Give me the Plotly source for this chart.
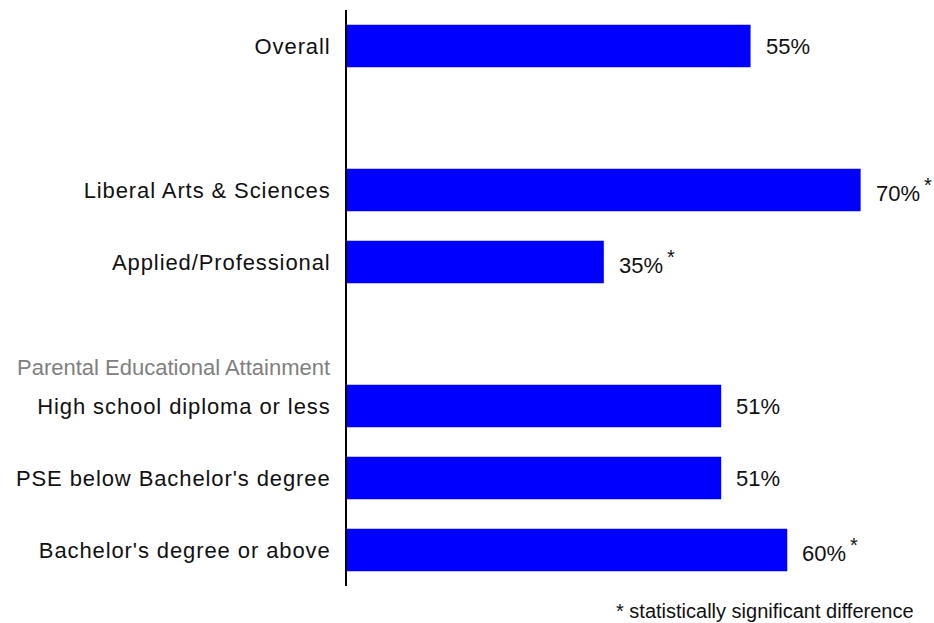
import plotly.graph_objects as go

# Share of respondents, grouped by program type and parental education
overall_labels = ["Overall"]
overall_values = [55]
overall_sig = [False]

program_labels = ["Liberal Arts & Sciences", "Applied/Professional"]
program_values = [70, 35]
program_sig = [True, True]

parent_header = "Parental Educational Attainment"
parent_labels = ["High school diploma or less", "PSE below Bachelor's degree",
                 "Bachelor's degree or above"]
parent_values = [51, 51, 60]
parent_sig = [False, False, True]

footnote = "* statistically significant difference"

groups = [
    (overall_labels, overall_values, overall_sig),
    (program_labels, program_values, program_sig),
    (parent_labels, parent_values, parent_sig),
]

# Category order with blank spacer rows between groups
order, labels, values, sig = [], [], [], []
for gi, (lab, val, s) in enumerate(groups):
    if gi > 0:
        order.append(" " * gi)
    order.extend(lab)
    labels.extend(lab)
    values.extend(val)
    sig.extend(s)

FONT = "Liberation Sans, Arial, Helvetica, sans-serif"
BLUE = "#0000FF"
INK = "#111111"


def spaced(txt, px):
    return f"<span style='letter-spacing:{px}px'>{txt}</span>" if txt.strip() else txt


STAR = "<sup><span style='font-size:20px'>&#8201;*</span></sup>"

fig = go.Figure(
    go.Bar(
        x=values,
        y=labels,
        orientation="h",
        width=0.59,
        marker=dict(color=BLUE, line=dict(width=0)),
        hoverinfo="skip",
    )
)

for lab, val, s in zip(labels, values, sig):
    fig.add_annotation(
        x=val, y=lab, xref="x", yref="y",
        text=f"{val}%" + (STAR if s else ""),
        showarrow=False, xanchor="left", xshift=13,
        font=dict(family=FONT, size=22, color=INK),
    )

header_idx = order.index(" " * 2)
fig.add_annotation(
    x=0, y=header_idx + 0.46, xref="paper", yref="y",
    text=parent_header, showarrow=False, xanchor="right", xshift=-15,
    font=dict(family=FONT, size=22, color="#808080"),
)

fig.add_annotation(
    x=1, y=0, xref="paper", yref="paper",
    text=footnote, showarrow=False, xanchor="right", yanchor="top",
    xshift=-18, yshift=-12,
    font=dict(family=FONT, size=20, color=INK),
)

fig.update_layout(
    width=934, height=623,
    margin=dict(l=347, r=0, t=10, b=37),
    plot_bgcolor="white", paper_bgcolor="white",
    showlegend=False,
    font=dict(family=FONT, size=22, color=INK),
    xaxis=dict(range=[0, 80], visible=False, showgrid=False, zeroline=False),
    yaxis=dict(
        type="category", categoryorder="array", categoryarray=order,
        tickmode="array", tickvals=order, ticktext=[spaced(c, 0.9) for c in order],
        range=[len(order) - 0.5, -0.5],
        showline=True, linecolor="black", linewidth=2,
        showgrid=False, zeroline=False,
        ticks="", ticklabelstandoff=10,
        tickfont=dict(family=FONT, size=22, color=INK),
    ),
)

fig.write_html("out.html")
